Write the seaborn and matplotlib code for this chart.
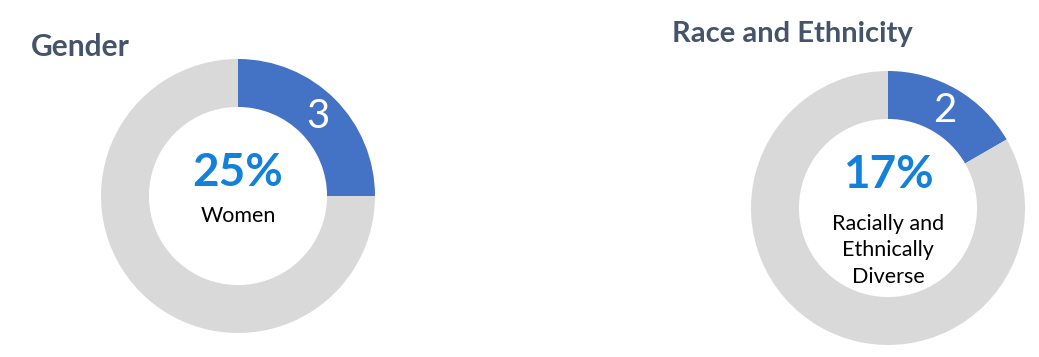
import matplotlib
matplotlib.use("Agg")
import matplotlib.pyplot as plt
import seaborn as sns

# ---- data ----
titles = ["Gender", "Race and Ethnicity"]
highlight_counts = [3, 2]
other_counts = [9, 10]
percent_labels = ["25%", "17%"]
captions = ["Women", "Racially and\nEthnically\nDiverse"]

sns.set_theme(style="white")
plt.rcParams["font.family"] = ["Lato", "DejaVu Sans"]

BLUE = "#4472C4"
GRAY = "#D9D9D9"
PCT = "#1380DB"
TITLE = "#44546A"

W, H = 1039, 357
fig = plt.figure(figsize=(W / 100, H / 100), dpi=100)
fig.patch.set_facecolor("white")

# axes boxes in pixels: (left, top, size)
boxes = [(101, 59, 274), (751, 71, 274)]
title_pos = [(31, 56, 21.5), (672, 42, 21)]
pct_y = [0.165, 0.24]
cap_y = [-0.145, -0.31]

for i in range(2):
    l, t, s = boxes[i]
    ax = fig.add_axes([l / W, (H - t - s) / H, s / W, s / H])
    vals = [highlight_counts[i], other_counts[i]]
    wedges, texts = ax.pie(
        vals,
        colors=[BLUE, GRAY],
        startangle=90,
        counterclock=False,
        radius=1.0,
        labels=[str(highlight_counts[i]), ""],
        labeldistance=0.825,
        wedgeprops=dict(width=0.35, edgecolor="none", linewidth=0),
        textprops=dict(color="white", fontsize=29, fontweight="normal"),
    )
    for tx in texts:
        tx.set_ha("center")
        tx.set_va("center")
    ax.set_xlim(-1, 1)
    ax.set_ylim(-1, 1)
    ax.set_aspect("equal")
    ax.axis("off")
    ax.text(0, pct_y[i], percent_labels[i], ha="center", va="center",
            fontsize=33, fontweight="bold", color=PCT)
    ax.text(0, cap_y[i], captions[i], ha="center", va="center",
            fontsize=15.5, color="black", linespacing=1.42)

    tx, ty, fs = title_pos[i]
    fig.text(tx / W, (H - ty) / H, titles[i], ha="left", va="baseline",
             fontsize=fs, fontweight="bold", color=TITLE)

fig.savefig("out.png", dpi=100, facecolor="white")
